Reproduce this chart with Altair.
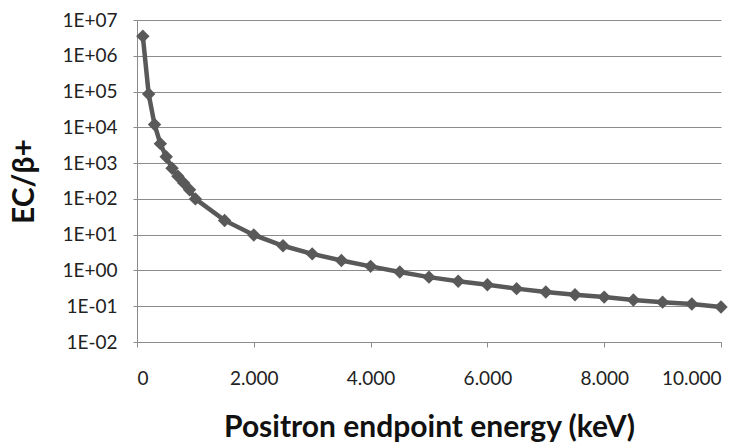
import altair as alt
import pandas as pd

energy_keV = [100, 200, 300, 400, 500, 600, 700, 800, 900, 1000,
              1500, 2000, 2500, 3000, 3500, 4000, 4500, 5000, 5500, 6000,
              6500, 7000, 7500, 8000, 8500, 9000, 9500, 10000]
ec_beta_ratio = [3.5e6, 8.5e4, 1.2e4, 3.5e3, 1.5e3, 7.2e2, 4.3e2, 2.8e2, 1.8e2, 1.0e2,
                 25, 9.8, 4.9, 2.9, 1.9, 1.3, 0.9, 0.65, 0.5, 0.4,
                 0.31, 0.25, 0.21, 0.18, 0.15, 0.13, 0.115, 0.095]

x_ticks = [0, 2000, 4000, 6000, 8000, 10000]
y_ticks = [1e-2, 1e-1, 1e0, 1e1, 1e2, 1e3, 1e4, 1e5, 1e6, 1e7]

df = pd.DataFrame({"energy": energy_keV, "ratio": ec_beta_ratio})

FONT = "Lato"
LINE = "#595959"
GRID = "#8c8c8c"

x_enc = alt.X(
    "energy:Q",
    scale=alt.Scale(domain=[0, 10000], nice=False),
    axis=alt.Axis(
        values=x_ticks,
        labelExpr="replace(format(datum.value, ','), ',', '.')",
        title="Positron endpoint energy (keV)",
        grid=False,
        domainColor=GRID,
        tickColor=GRID,
        tickSize=5,
        labelPadding=22,
        labelFont=FONT,
        labelFontSize=19,
        labelColor="#222222",
        titleFont=FONT,
        titleFontSize=30,
        titleFontWeight="bold",
        titleColor="#111111",
        titlePadding=24,
    ),
)

y_enc = alt.Y(
    "ratio:Q",
    scale=alt.Scale(type="log", domain=[1e-2, 1e7], nice=False),
    axis=alt.Axis(
        values=y_ticks,
        labelExpr="'1E' + (datum.value >= 1 ? '+' : '-') + (abs(round(log(datum.value)/LN10)) < 10 ? '0' : '') + abs(round(log(datum.value)/LN10))",
        title="EC/β+",
        grid=True,
        gridColor=GRID,
        gridWidth=1,
        domainColor=GRID,
        tickColor=GRID,
        tickSize=4,
        labelPadding=16,
        labelFont=FONT,
        labelFontSize=19,
        labelColor="#222222",
        titleFont=FONT,
        titleFontSize=30,
        titleFontWeight="bold",
        titleColor="#111111",
        titlePadding=22,
    ),
)

line = alt.Chart(df).mark_line(color=LINE, strokeWidth=4.5).encode(x=x_enc, y=y_enc)
points = alt.Chart(df).mark_point(shape="diamond", filled=True, color=LINE, size=180, opacity=1).encode(x=x_enc, y=y_enc)

chart = (
    alt.layer(line, points)
    .properties(
        width=584,
        height=322,
        padding={"left": 137, "top": 20, "right": 33, "bottom": 106},
        autosize=alt.AutoSizeParams(type="none"),
        background="white",
    )
    .configure_view(stroke=None)
)

chart.save("out.html", embed_options={"renderer": "svg", "actions": False})
